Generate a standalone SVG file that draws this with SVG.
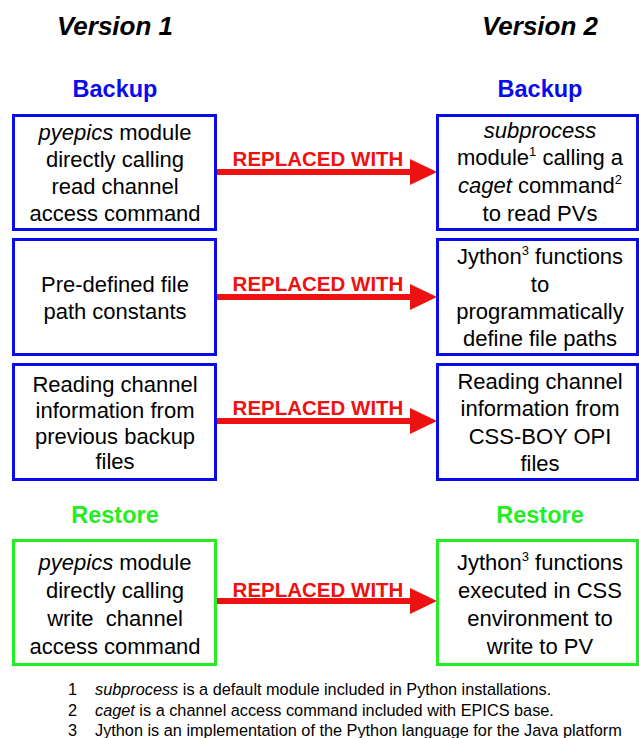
<svg xmlns="http://www.w3.org/2000/svg" width="639" height="738" viewBox="0 0 639 738">
<style>
.t{font-family:"Liberation Sans",Arial,sans-serif;font-size:22px;fill:#000;text-anchor:middle}
.h{font-family:"Liberation Sans",Arial,sans-serif;font-size:26px;font-weight:bold;font-style:italic;fill:#000;text-anchor:middle}
.sb{font-family:"Liberation Sans",Arial,sans-serif;font-size:23.5px;font-weight:bold;text-anchor:middle}
.bl{fill:#0a0aee}
.gr{fill:#22ee22}
.lbl{font-family:"Liberation Sans",Arial,sans-serif;font-size:20.5px;font-weight:bold;fill:#ee1111;text-anchor:middle}
.fn{font-family:"Liberation Sans",Arial,sans-serif;font-size:16.3px;fill:#000}
.bb{fill:#fff;stroke:#0a0aee;stroke-width:3}
.gb{fill:#fff;stroke:#22ee22;stroke-width:3}
.sh{stroke:#ee1111;stroke-width:6;fill:none}
.ah{fill:#ee1111}
.i{font-style:italic}
.sup{font-size:13px}
</style>
<rect width="639" height="738" fill="#fff"/>
<text class="h" x="115" y="35">Version 1</text>
<text class="h" x="540" y="35">Version 2</text>
<text class="sb bl" x="115" y="97">Backup</text>
<text class="sb bl" x="540" y="97">Backup</text>
<text class="sb gr" x="115" y="523">Restore</text>
<text class="sb gr" x="540" y="523">Restore</text>

<g id="connectors">
<g id="c1"><line class="sh" x1="216" y1="172" x2="412" y2="172"/><polygon class="ah" points="410,159 437,172 410,185"/><text class="lbl" x="318" y="166">REPLACED WITH</text></g>
<g id="c2"><line class="sh" x1="216" y1="297" x2="412" y2="297"/><polygon class="ah" points="410,284 437,297 410,310"/><text class="lbl" x="318" y="291">REPLACED WITH</text></g>
<g id="c3"><line class="sh" x1="216" y1="421" x2="412" y2="421"/><polygon class="ah" points="410,408 437,421 410,434"/><text class="lbl" x="318" y="415">REPLACED WITH</text></g>
<g id="c4"><line class="sh" x1="216" y1="601" x2="412" y2="601"/><polygon class="ah" points="410,588 437,601 410,614"/><text class="lbl" x="318" y="597">REPLACED WITH</text></g>
</g>

<g id="v1-backup-1"><rect class="bb" x="13.5" y="115.5" width="202" height="114"/>
<text class="t" x="115" y="140"><tspan class="i">pyepics</tspan> module</text>
<text class="t" x="115" y="167">directly calling</text>
<text class="t" x="115" y="194">read channel</text>
<text class="t" x="115" y="221">access command</text></g>

<g id="v2-backup-1"><rect class="bb" x="437.5" y="115.5" width="200" height="114"/>
<text class="t" x="540" y="138"><tspan class="i">subprocess</tspan></text>
<text class="t" x="540" y="165">module<tspan class="sup" dy="-9">1</tspan><tspan dy="9"> calling a</tspan></text>
<text class="t" x="540" y="193"><tspan class="i">caget</tspan> command<tspan class="sup" dy="-9">2</tspan></text>
<text class="t" x="540" y="221">to read PVs</text></g>

<g id="v1-backup-2"><rect class="bb" x="13.5" y="239.5" width="202" height="115"/>
<text class="t" x="115" y="292">Pre-defined file</text>
<text class="t" x="115" y="319">path constants</text></g>

<g id="v2-backup-2"><rect class="bb" x="437.5" y="239.5" width="200" height="115"/>
<text class="t" x="540" y="264">Jython<tspan class="sup" dy="-9">3</tspan><tspan dy="9"> functions</tspan></text>
<text class="t" x="540" y="292">to</text>
<text class="t" x="540" y="319">programmatically</text>
<text class="t" x="540" y="346">define file paths</text></g>

<g id="v1-backup-3"><rect class="bb" x="13.5" y="364.5" width="202" height="115"/>
<text class="t" x="115" y="392">Reading channel</text>
<text class="t" x="115" y="418">information from</text>
<text class="t" x="115" y="444">previous backup</text>
<text class="t" x="115" y="469">files</text></g>

<g id="v2-backup-3"><rect class="bb" x="437.5" y="364.5" width="200" height="115"/>
<text class="t" x="540" y="389">Reading channel</text>
<text class="t" x="540" y="416">information from</text>
<text class="t" x="540" y="444">CSS-BOY OPI</text>
<text class="t" x="540" y="471">files</text></g>

<g id="v1-restore"><rect class="gb" x="13.5" y="540.5" width="202" height="124"/>
<text class="t" x="115" y="570"><tspan class="i">pyepics</tspan> module</text>
<text class="t" x="115" y="598">directly calling</text>
<text class="t" x="115" y="626">write&#160; channel</text>
<text class="t" x="115" y="654">access command</text></g>

<g id="v2-restore"><rect class="gb" x="437.5" y="540.5" width="200" height="124"/>
<text class="t" x="540" y="570">Jython<tspan class="sup" dy="-9">3</tspan><tspan dy="9"> functions</tspan></text>
<text class="t" x="540" y="598">executed in CSS</text>
<text class="t" x="540" y="626">environment to</text>
<text class="t" x="540" y="654">write to PV</text></g>

<g id="footnotes">
<text class="fn" x="68" y="695">1</text><text class="fn" x="95" y="695"><tspan class="i">subprocess</tspan> is a default module included in Python installations.</text>
<text class="fn" x="68" y="716">2</text><text class="fn" x="95" y="716"><tspan class="i">caget</tspan> is a channel access command included with EPICS base.</text>
<text class="fn" x="68" y="736">3</text><text class="fn" x="95" y="736">Jython is an implementation of the Python language for the Java platform</text>
</g>
</svg>
